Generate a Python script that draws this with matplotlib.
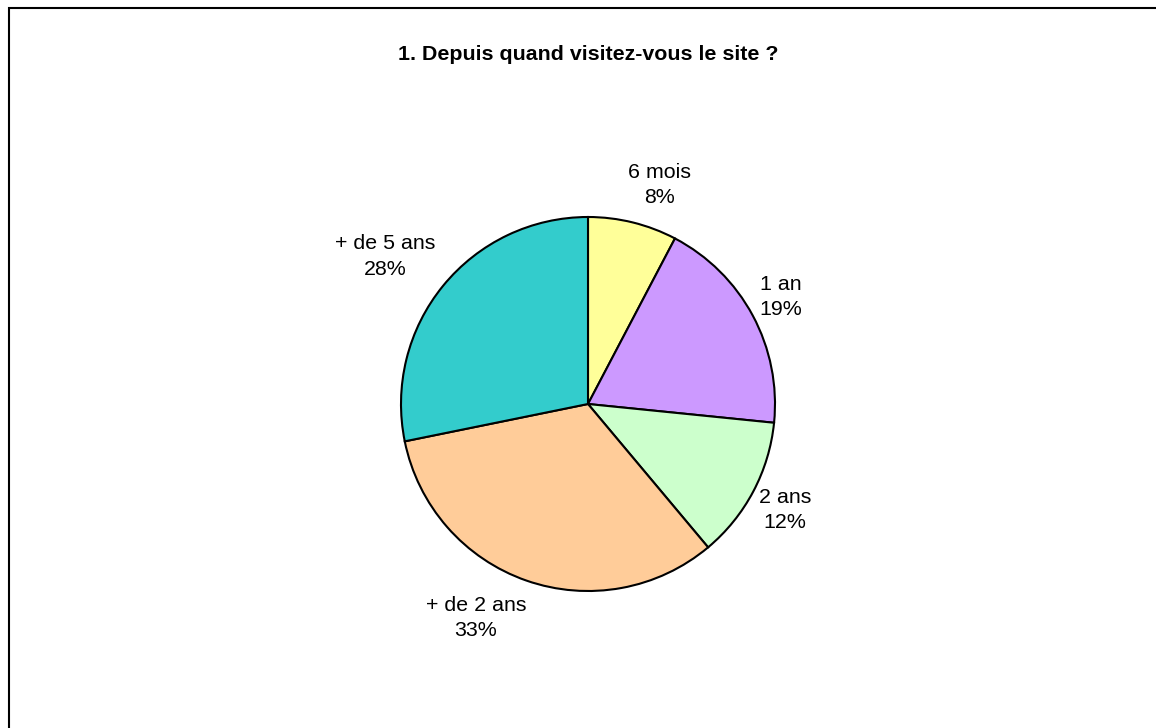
import matplotlib
matplotlib.use("Agg")
from matplotlib import pyplot as plt
from matplotlib.patches import Rectangle

plt.rcParams["font.family"] = ["Liberation Sans", "DejaVu Sans"]

categories = ["6 mois", "1 an", "2 ans", "+ de 2 ans", "+ de 5 ans"]
# shares read from the slice edges; the labels show them rounded
shares = [7.7, 18.9, 12.3, 32.9, 28.2]
colors = ["#FFFF99", "#CC99FF", "#CCFFCC", "#FFCC99", "#33CCCC"]

fig = plt.figure(figsize=(11.56, 7.28), dpi=100)

# square axes so the pie keeps its round shape, placed like the original
ax = fig.add_axes([401 / 1156, 137 / 728, 374 / 1156, 374 / 728])

wedges, texts = ax.pie(
    shares,
    labels=[f"{c}\n{round(v)}%" for c, v in zip(categories, shares)],
    colors=colors,
    startangle=90,
    counterclock=False,
    radius=1,
    wedgeprops={"edgecolor": "black", "linewidth": 1.5},
    textprops={"fontsize": 15.4, "ha": "center", "va": "center", "linespacing": 1.45},
)
# pie() resets the limits, so set them afterwards
ax.set_xlim(-1, 1)
ax.set_ylim(-1, 1)
ax.set_aspect("equal")
ax.axis("off")

# label spots, in units of the pie radius
label_xy = [(0.385, 1.171), (1.03, 0.572), (1.055, -0.567), (-0.60, -1.144), (-1.085, 0.79)]
for t, (x, y) in zip(texts, label_xy):
    t.set_position((x, y))
    t.set_horizontalalignment("center")
    t.set_verticalalignment("center")
    t.set_clip_on(False)

fig.text(588 / 1156, 1 - 55 / 728, "1. Depuis quand visitez-vous le site ?",
         ha="center", va="center", fontsize=15.4, fontweight="bold")

# chart area border (runs off the right and bottom edge in the original)
fig.patches.append(Rectangle((8.5 / 1156, -0.1), 1.2, 1.1 - 8.5 / 728,
                             transform=fig.transFigure, fill=False,
                             edgecolor="black", linewidth=1.5))

fig.savefig("out.png", dpi=100, facecolor="white")
